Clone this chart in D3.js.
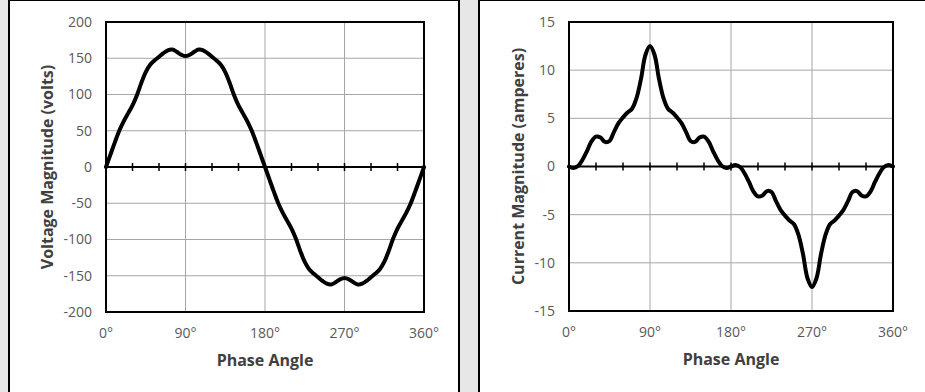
<!DOCTYPE html>
<html>
<head>
<meta charset="utf-8">
<script src="https://cdn.jsdelivr.net/npm/d3@7"></script>
<style>
  body { margin: 0; background: #e7e7e7; }
  svg { display: block; font-family: "Open Sans", sans-serif; }
</style>
</head>
<body>
<div id="chart"></div>
<script>
// Data: phase angle (degrees) and readings
var angles = [0, 5, 10, 15, 20, 25, 30, 35, 40, 45, 50, 55, 60, 65, 70, 75, 80, 85, 90,
  95, 100, 105, 110, 115, 120, 125, 130, 135, 140, 145, 150, 155, 160, 165, 170, 175, 180,
  185, 190, 195, 200, 205, 210, 215, 220, 225, 230, 235, 240, 245, 250, 255, 260, 265, 270,
  275, 280, 285, 290, 295, 300, 305, 310, 315, 320, 325, 330, 335, 340, 345, 350, 355, 360];

var voltage = [0, 17, 34, 50, 63, 74, 85, 99, 116, 131, 141, 147, 152, 157, 161, 162, 159, 155, 153,
  155, 159, 162, 161, 157, 152, 147, 141, 131, 116, 99, 85, 74, 63, 50, 34, 17, 0,
  -17, -34, -50, -63, -74, -85, -99, -116, -131, -141, -147, -152, -157, -161, -162, -159, -155, -153,
  -155, -159, -162, -161, -157, -152, -147, -141, -131, -116, -99, -85, -74, -63, -50, -34, -17, 0];

var current = [0, -0.15, 0.05, 0.7, 1.6, 2.6, 3.1, 3.0, 2.55, 2.65, 3.6, 4.5, 5.1, 5.6, 6.0, 7.1, 9.1, 11.6, 12.5,
  11.6, 9.1, 7.1, 6.0, 5.6, 5.1, 4.5, 3.6, 2.65, 2.55, 3.0, 3.1, 2.6, 1.6, 0.7, 0.05, -0.15, 0,
  0.15, -0.05, -0.7, -1.6, -2.6, -3.1, -3.0, -2.55, -2.65, -3.6, -4.5, -5.1, -5.6, -6.0, -7.1, -9.1, -11.6, -12.5,
  -11.6, -9.1, -7.1, -6.0, -5.6, -5.1, -4.5, -3.6, -2.65, -2.55, -3.0, -3.1, -2.6, -1.6, -0.7, -0.05, 0.15, 0];

var xTicks = [0, 90, 180, 270, 360];
var minorTicks = [30, 60, 120, 150, 210, 240, 300, 330];
var voltTicks = [-200, -150, -100, -50, 0, 50, 100, 150, 200];
var ampTicks = [-15, -10, -5, 0, 5, 10, 15];

var W = 925, H = 392;

var svg = d3.select("#chart").append("svg")
  .attr("width", W).attr("height", H);

// white panels
svg.append("rect").attr("x", 9).attr("y", 0).attr("width", 450).attr("height", H + 10)
  .attr("fill", "#fff").attr("stroke", "#000").attr("stroke-width", 2);
svg.append("rect").attr("x", 479).attr("y", 0).attr("width", 460).attr("height", H + 10)
  .attr("fill", "#fff").attr("stroke", "#000").attr("stroke-width", 2);

function drawChart(opt) {
  var x = d3.scaleLinear().domain([0, 360]).range([opt.left, opt.right]);
  var y = d3.scaleLinear().domain(opt.yDomain).range([opt.bottom, opt.top]);
  var g = svg.append("g");

  // grid
  g.selectAll(".hgrid").data(opt.yTicks).enter().append("line")
    .attr("x1", opt.left).attr("x2", opt.right)
    .attr("y1", function(d) { return y(d); }).attr("y2", function(d) { return y(d); })
    .attr("stroke", "#a6a6a6").attr("stroke-width", 1);
  g.selectAll(".vgrid").data(xTicks).enter().append("line")
    .attr("x1", function(d) { return x(d); }).attr("x2", function(d) { return x(d); })
    .attr("y1", opt.top).attr("y2", opt.bottom)
    .attr("stroke", "#a6a6a6").attr("stroke-width", 1);

  // zero axis with cross ticks
  g.append("line").attr("x1", opt.left).attr("x2", opt.right)
    .attr("y1", y(0)).attr("y2", y(0))
    .attr("stroke", "#000").attr("stroke-width", 2);
  g.selectAll(".tick0").data(minorTicks.concat(xTicks)).enter().append("line")
    .attr("x1", function(d) { return x(d); }).attr("x2", function(d) { return x(d); })
    .attr("y1", y(0) - 4).attr("y2", y(0) + 4)
    .attr("stroke", "#000").attr("stroke-width", 1.5);

  // frame
  g.append("rect").attr("x", opt.left).attr("y", opt.top)
    .attr("width", opt.right - opt.left).attr("height", opt.bottom - opt.top)
    .attr("fill", "none").attr("stroke", "#000").attr("stroke-width", 2);

  // curve
  var line = d3.line()
    .x(function(d, i) { return x(angles[i]); })
    .y(function(d) { return y(d); })
    .curve(d3.curveCatmullRom.alpha(0.5));
  g.append("path").datum(opt.values).attr("d", line)
    .attr("fill", "none").attr("stroke", "#000").attr("stroke-width", 4)
    .attr("stroke-linejoin", "round").attr("stroke-linecap", "round");

  // tick labels
  g.selectAll(".ylab").data(opt.yTicks).enter().append("text")
    .attr("x", opt.left - 14).attr("y", function(d) { return y(d); })
    .attr("dy", "0.35em").attr("text-anchor", "end")
    .attr("font-size", 14).attr("fill", "#595959")
    .text(function(d) { return d; });
  g.selectAll(".xlab").data(xTicks).enter().append("text")
    .attr("x", function(d) { return x(d); }).attr("y", opt.bottom + 26)
    .attr("text-anchor", "middle")
    .attr("font-size", 14).attr("fill", "#595959")
    .text(function(d) { return d + "°"; });

  // titles
  g.append("text").attr("x", (opt.left + opt.right) / 2).attr("y", opt.bottom + 54)
    .attr("text-anchor", "middle").attr("font-size", 16).attr("font-weight", "bold")
    .attr("fill", "#404040").text("Phase Angle");
  g.append("text")
    .attr("transform", "translate(" + opt.titleX + "," + ((opt.top + opt.bottom) / 2) + ") rotate(-90)")
    .attr("text-anchor", "middle").attr("dy", "0.35em").attr("font-size", 16).attr("font-weight", "bold")
    .attr("fill", "#404040").text(opt.title);
}

drawChart({
  left: 106, right: 424, top: 22, bottom: 312,
  yDomain: [-200, 200], yTicks: voltTicks, values: voltage,
  title: "Voltage Magnitude (volts)", titleX: 47
});

drawChart({
  left: 569, right: 893, top: 22, bottom: 311,
  yDomain: [-15, 15], yTicks: ampTicks, values: current,
  title: "Current Magnitude (amperes)", titleX: 518
});
</script>
</body>
</html>
